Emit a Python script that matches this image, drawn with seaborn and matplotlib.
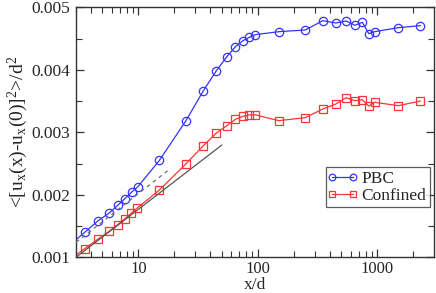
import numpy as np
import pandas as pd
import seaborn as sns
import matplotlib
matplotlib.use("Agg")
import matplotlib.pyplot as plt
from matplotlib.legend_handler import HandlerLine2D
from matplotlib.ticker import FixedLocator, FixedFormatter, MultipleLocator, FormatStrFormatter, LogLocator, NullFormatter

# ---- data ----
pbc_x = [2.6, 3.6, 4.6, 5.7, 6.7, 7.7, 8.8, 9.9, 15, 25, 35, 45, 55, 65, 75, 85, 95,
         150, 250, 350, 450, 550, 650, 750, 850, 950, 1500, 2300]
pbc_y = [0.00118, 0.00141, 0.001586, 0.001709, 0.001832, 0.001938, 0.002045, 0.00213,
         0.002552, 0.003186, 0.003666, 0.003986, 0.00421, 0.00437, 0.004466, 0.00452,
         0.004562, 0.00461, 0.004637, 0.004786, 0.004749, 0.004781, 0.004712, 0.00476,
         0.004578, 0.00461, 0.004674, 0.004706]

conf_x = [2.6, 3.55, 4.6, 5.7, 6.7, 7.7, 8.7, 9.7, 15, 25, 35, 45, 55, 65, 75, 85, 95,
          150, 250, 350, 450, 550, 650, 750, 850, 950, 1500, 2300]
conf_y = [0.00095, 0.001138, 0.001293, 0.001416, 0.001522, 0.001618, 0.001704, 0.001784,
          0.002077, 0.002495, 0.002786, 0.002989, 0.003106, 0.003208, 0.003256, 0.003277,
          0.00328, 0.003186, 0.003234, 0.003373, 0.003453, 0.003554, 0.003506, 0.003522,
          0.003421, 0.00348, 0.003426, 0.0035]

# reference lines (log fits)
fit_x = [3, 50]
fit_y = [0.001, 0.002797]
dash_x = [3, 18]
dash_y = [0.00124, 0.0024]

x_ticks = [10, 100, 1000]
x_ticklabels = ["10", "100", "1000"]
y_ticks = [0.001, 0.002, 0.003, 0.004, 0.005]

# ---- style ----
sns.set_style("ticks")
plt.rcParams["font.family"] = ["Liberation Serif", "DejaVu Serif"]
plt.rcParams["mathtext.fontset"] = "custom"
plt.rcParams["mathtext.rm"] = "Liberation Serif"
plt.rcParams["mathtext.it"] = "Liberation Serif"
plt.rcParams["mathtext.default"] = "rm"

fig = plt.figure(figsize=(4.36, 2.93), dpi=100)
ax = fig.add_axes([76 / 436, 1 - 257.3 / 293, (433.5 - 76) / 436, (257.3 - 7.3) / 293])

blue = "#3434ff"
red = "#ff3434"

df_p = pd.DataFrame({"x": pbc_x, "y": pbc_y})
df_c = pd.DataFrame({"x": conf_x, "y": conf_y})

sns.lineplot(data=pd.DataFrame({"x": fit_x, "y": fit_y}), x="x", y="y", ax=ax,
             color="#555555", lw=0.9, estimator=None, sort=False, zorder=3)
sns.lineplot(data=df_p, x="x", y="y", ax=ax, color=blue, lw=0.9, marker="o",
             markersize=6, markerfacecolor="none", markeredgecolor=blue,
             markeredgewidth=0.9, estimator=None, sort=False, label="PBC", zorder=2)
sns.lineplot(data=df_c, x="x", y="y", ax=ax, color=red, lw=0.9, marker="s",
             markersize=5.5, markerfacecolor="none", markeredgecolor=red,
             markeredgewidth=0.9, estimator=None, sort=False, label="Confined", zorder=2)
sns.lineplot(data=pd.DataFrame({"x": dash_x, "y": dash_y}), x="x", y="y", ax=ax,
             color="#707070", lw=0.9, ls=(0, (3, 3)), estimator=None, sort=False, zorder=4)

ax.set_xscale("log")
ax.set_xlim(3, 2960)
ax.set_ylim(0.001, 0.005)

ax.xaxis.set_major_locator(FixedLocator(x_ticks))
ax.xaxis.set_major_formatter(FixedFormatter(x_ticklabels))
ax.xaxis.set_minor_locator(LogLocator(base=10, subs=np.arange(2, 10)))
ax.xaxis.set_minor_formatter(NullFormatter())
ax.yaxis.set_major_locator(FixedLocator(y_ticks))
ax.yaxis.set_major_formatter(FormatStrFormatter("%.3f"))
ax.yaxis.set_minor_locator(MultipleLocator(0.0005))

ax.tick_params(which="both", direction="in", top=True, right=True, labelsize=12.5,
               color="#333333", pad=4)
ax.tick_params(axis="x", which="both", pad=2.5, labelsize=12)
ax.tick_params(which="major", length=6, width=0.9)
ax.tick_params(which="minor", length=4, width=0.8)
for s in ax.spines.values():
    s.set_linewidth(1.0)
    s.set_color("#333333")

ax.set_xlabel("x/d", fontsize=12.5, va="baseline")
ax.xaxis.set_label_coords(0.5, (257.3 - 289.0) / 250)
ax.set_ylabel(r"<[u$_x$(x)-u$_x$(0)]$^2$>/d$^2$", fontsize=14, labelpad=1)

handles, labels = ax.get_legend_handles_labels()
leg = ax.legend(handles, labels, loc="upper left", bbox_to_anchor=(0.699, 0.36),
                borderaxespad=0, fontsize=12.5, markerscale=0.8,
                handlelength=1.5, handletextpad=0.35,
                borderpad=0.2, labelspacing=0.05, fancybox=False, frameon=True,
                handler_map={h: HandlerLine2D(numpoints=2, marker_pad=0.15) for h in handles})
leg.get_frame().set_edgecolor("#333333")
leg.get_frame().set_linewidth(0.9)

fig.savefig("out.png", dpi=100)
